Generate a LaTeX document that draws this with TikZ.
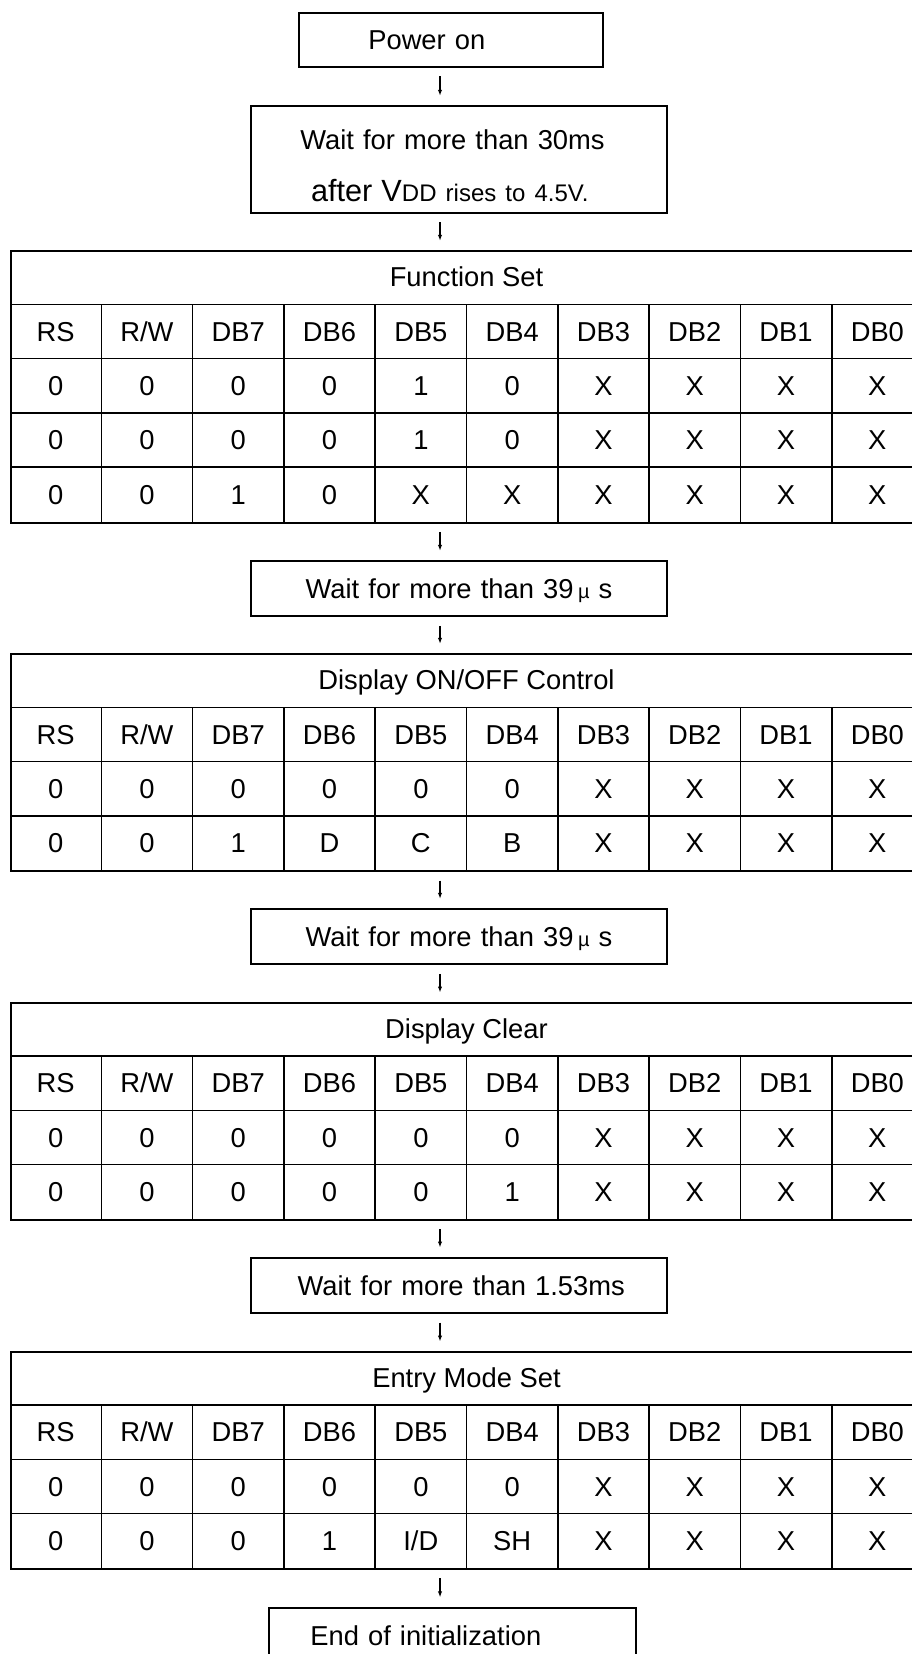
\documentclass[tikz,border=0pt]{standalone}
\usepackage{fontspec}
\setmainfont{Liberation Sans}
\usetikzlibrary{arrows.meta}

\tikzset{
  txt/.style={inner sep=0pt, text height=14.7pt, text depth=0pt, font=\fontsize{20.5}{39}\selectfont},
  box/.style={draw, line width=1.5pt, inner sep=0pt, anchor=north west, align=left,
    text height=14.7pt, text depth=0pt, font=\fontsize{20.5}{39}\selectfont},
  tabframe/.style={draw, line width=1.5pt, inner sep=0pt, minimum width=684.75pt, anchor=north west},
  gridline/.style={line width=1.2pt},
  arr/.style={-{Latex[length=4.5pt,width=3.2pt]}, line width=0.9pt, shorten <=6.3pt, shorten >=6.8pt},
}

\newcommand\mus{{\fontsize{15}{15}\selectfont µ}}

% register table: name, top edge, title, data rows
\newcommand\regtable[4]{%
  \foreach \r [count=\n] in {#4} {\xdef\nrows{\n}}
  \pgfmathsetmacro\tb{#2+(\nrows+2)*54.3}
  \pgfmathtruncatemacro\nl{\nrows+1}
  \node[tabframe, minimum height={(\nrows+2)*54.3*0.75pt}] (#1) at (10,#2) {};
  \foreach \k in {1,...,\nl}
    \draw[gridline] (10,{#2+\k*54.3}) -- (923,{#2+\k*54.3});
  \foreach \c in {1,...,9}
    \draw[gridline] ({10+\c*91.3},{#2+54.3}) -- ({10+\c*91.3},\tb);
  \node[txt] (#1-title) at (466.5,{#2+27.15}) {#3};
  \foreach \h [count=\c] in {RS,R/W,DB7,DB6,DB5,DB4,DB3,DB2,DB1,DB0}
    \node[txt] (#1-h\c) at ({10+(\c-0.5)*91.3},{#2+81.45}) {\h};
  \foreach \row [count=\r] in {#4}
    \foreach \v [count=\c] in \row
      \node[txt] (#1-\r-\c) at ({10+(\c-0.5)*91.3},{#2+(\r+1.5)*54.3}) {\v};
}

\begin{document}
\begin{tikzpicture}[x=0.75pt, y=-0.75pt]
  \useasboundingbox (0,0) rectangle (912,1654);
  \coordinate (ax) at (440,0);

  \node[box, text width=228pt, minimum height=40.5pt] (pwr) at (298,11.7) {\hspace*{52pt}Power on};
  \node[box, text width=312pt, minimum height=80pt, text height=24pt, text depth=39pt] (w30) at (250,105)
    {\hspace*{37pt}Wait for more than 30ms\\
     \hspace*{45pt}{\fontsize{23}{39}\selectfont after V}{\fontsize{18}{39}\selectfont DD rises to 4.5V.}};

  \regtable{fset}{250}{Function Set}{{0,0,0,0,1,0,X,X,X,X},{0,0,0,0,1,0,X,X,X,X},{0,0,1,0,X,X,X,X,X,X}}

  \node[box, text width=312pt, minimum height=41.6pt] (w39a) at (250,560) {\hspace*{41pt}Wait for more than 39\,\mus{} s};

  \regtable{dctl}{653}{Display ON/OFF Control}{{0,0,0,0,0,0,X,X,X,X},{0,0,1,D,C,B,X,X,X,X}}

  \node[box, text width=312pt, minimum height=41.6pt] (w39b) at (250,908) {\hspace*{41pt}Wait for more than 39\,\mus{} s};

  \regtable{dclr}{1001.7}{Display Clear}{{0,0,0,0,0,0,X,X,X,X},{0,0,0,0,0,1,X,X,X,X}}

  \node[box, text width=312pt, minimum height=41.6pt] (w153) at (250,1256.7) {\hspace*{35pt}Wait for more than 1.53ms};

  \regtable{emode}{1350.7}{Entry Mode Set}{{0,0,0,0,0,0,X,X,X,X},{0,0,0,1,I/D,SH,X,X,X,X}}

  \node[box, text width=275.25pt, minimum height=41.6pt] (fin) at (268,1606.5) {\hspace*{31pt}End of initialization};

  % arrows between the steps
  \draw[arr] (pwr.south -| ax) -- (w30.north -| ax);
  \draw[arr] (w30.south -| ax) -- (fset.north -| ax);
  \draw[arr] (fset.south -| ax) -- (w39a.north -| ax);
  \draw[arr] (w39a.south -| ax) -- (dctl.north -| ax);
  \draw[arr] (dctl.south -| ax) -- (w39b.north -| ax);
  \draw[arr] (w39b.south -| ax) -- (dclr.north -| ax);
  \draw[arr] (dclr.south -| ax) -- (w153.north -| ax);
  \draw[arr] (w153.south -| ax) -- (emode.north -| ax);
  \draw[arr] (emode.south -| ax) -- (fin.north -| ax);
\end{tikzpicture}
\end{document}
